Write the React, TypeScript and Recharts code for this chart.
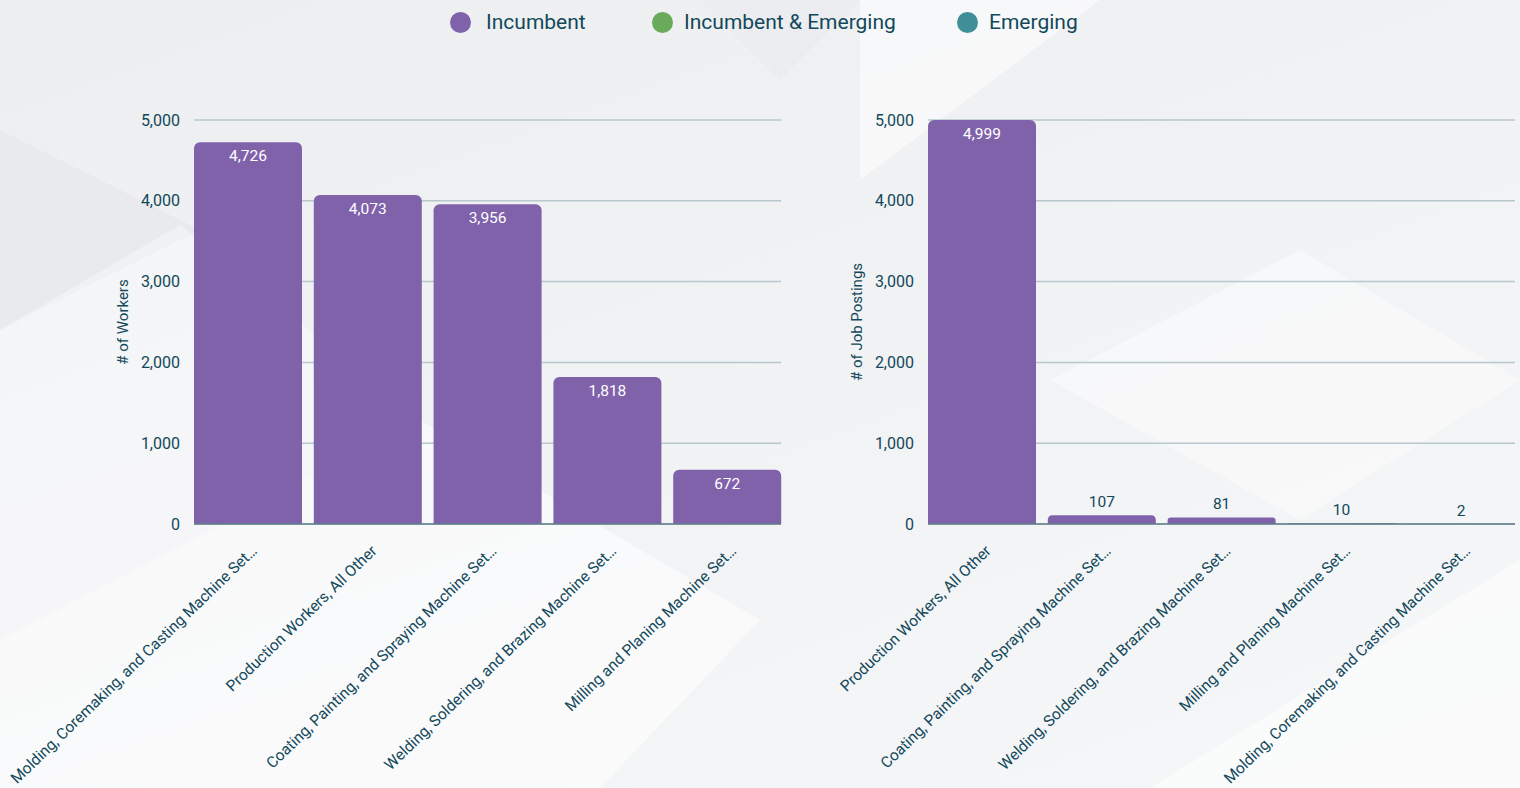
import React from 'react';
import { BarChart, Bar, XAxis, YAxis, CartesianGrid, LabelList, Label } from 'recharts';

const workerCategories = [
  'Molding, Coremaking, and Casting Machine Set…',
  'Production Workers, All Other',
  'Coating, Painting, and Spraying Machine Set…',
  'Welding, Soldering, and Brazing Machine Set…',
  'Milling and Planing Machine Set…',
];
const workerValues = [4726, 4073, 3956, 1818, 672];

const postingCategories = [
  'Production Workers, All Other',
  'Coating, Painting, and Spraying Machine Set…',
  'Welding, Soldering, and Brazing Machine Set…',
  'Milling and Planing Machine Set…',
  'Molding, Coremaking, and Casting Machine Set…',
];
const postingValues = [4999, 107, 81, 10, 2];

const yTicks = [0, 1000, 2000, 3000, 4000, 5000];

const legendNames = ['Incumbent', 'Incumbent & Emerging', 'Emerging'];
const legendColors = ['#8062ab', '#6aaa5b', '#3f8f99'];

const PURPLE = '#8062ab';
const DARK = '#12485a';
const FONT = 'Roboto, "Noto Sans", sans-serif';

const fmt = (v: number) => v.toLocaleString('en-US');

const renderBarLabel = (props: any) => {
  const { x, y, width, height, value } = props;
  const inside = height > 30;
  const cx = Number(x) + Number(width) / 2;
  return (
    <text
      x={cx}
      y={inside ? Number(y) + 14 : Number(y) - 13}
      fill={inside ? '#ffffff' : DARK}
      textAnchor="middle"
      dominantBaseline="central"
      fontSize={15.5}
      fontFamily={FONT}
    >
      {fmt(Number(value))}
    </text>
  );
};

const XTick = (props: any) => {
  const { x, y, payload } = props;
  return (
    <text
      transform={`translate(${x + 10},${y + 20}) rotate(-44)`}
      textAnchor="end"
      fill={DARK}
      fontSize={15.5}
      fontFamily={FONT}
    >
      {payload.value}
    </text>
  );
};

function Chart({ left, categories, values, yLabel }: { left: number; categories: string[]; values: number[]; yLabel: string }) {
  const data = categories.map((c, i) => ({ name: c, value: values[i] }));
  return (
    <div style={{ position: 'absolute', left, top: 0 }}>
      <BarChart
        width={800}
        height={788}
        data={data}
        margin={{ top: 120, right: 19, bottom: 64, left: 114 }}
        barCategoryGap={6}
      >
        <CartesianGrid vertical={false} stroke="#b7c8cd" strokeWidth={1.5} />
        <XAxis
          dataKey="name"
          interval={0}
          height={200}
          tickLine={false}
          axisLine={{ stroke: '#5f7f88', strokeWidth: 1.5 }}
          padding={{ left: -6, right: -6 }}
          tick={<XTick />}
        />
        <YAxis
          width={80}
          domain={[0, 5000]}
          ticks={yTicks}
          tickLine={false}
          axisLine={false}
          tickMargin={8}
          tick={{ fill: DARK, fontSize: 16, fontFamily: FONT }}
          tickFormatter={(v: number) => fmt(v)}
        >
          <Label
            content={(p: any) => {
              const vb = p.viewBox || {};
              const cx = vb.x + 9;
              const cy = vb.y + vb.height / 2;
              return (
                <text
                  transform={`translate(${cx},${cy}) rotate(-90)`}
                  textAnchor="middle"
                  dominantBaseline="central"
                  fill={DARK}
                  fontSize={15}
                  fontFamily={FONT}
                >
                  {yLabel}
                </text>
              );
            }}
          />
        </YAxis>
        <Bar dataKey="value" fill={PURPLE} radius={[6, 6, 0, 0]} isAnimationActive={false}>
          <LabelList dataKey="value" content={renderBarLabel} />
        </Bar>
      </BarChart>
    </div>
  );
}

const legendLefts = [450, 652, 957];

export default function App() {
  return (
    <div
      style={{
        position: 'fixed',
        left: 0,
        top: 0,
        width: 1520,
        height: 788,
        overflow: 'hidden',
        background: 'linear-gradient(160deg, #eceef0 0%, #f1f2f4 45%, #f6f7f8 100%)',
        fontFamily: FONT,
      }}
    >
      <svg width={1520} height={788} style={{ position: 'absolute', left: 0, top: 0 }}>
        <polygon points="0,130 200,230 0,330" fill="#e6e8eb" opacity={0.8} />
        <polygon points="0,330 180,225 420,420 0,640" fill="#ffffff" opacity={0.35} />
        <polygon points="0,640 420,420 760,620 600,788 0,788" fill="#ffffff" opacity={0.55} />
        <polygon points="860,0 1100,0 860,180" fill="#ffffff" opacity={0.5} />
        <polygon points="1050,380 1300,250 1520,380 1300,520" fill="#ffffff" opacity={0.4} />
        <polygon points="1150,788 1520,560 1520,788" fill="#ffffff" opacity={0.5} />
        <polygon points="700,0 860,0 780,80" fill="#e9ebee" opacity={0.6} />
      </svg>
      {legendNames.map((n, i) => (
        <div
          key={n}
          style={{
            position: 'absolute',
            left: legendLefts[i],
            top: 9,
            display: 'flex',
            alignItems: 'center',
            fontSize: 21,
            color: DARK,
            lineHeight: '26px',
            whiteSpace: 'nowrap',
          }}
        >
          <span
            style={{
              display: 'inline-block',
              width: 21,
              height: 21,
              borderRadius: 11,
              background: legendColors[i],
              marginRight: i === 0 ? 15 : 11,
            }}
          />
          <span>{n}</span>
        </div>
      ))}
      <Chart left={0} categories={workerCategories} values={workerValues} yLabel="# of Workers" />
      <Chart left={734} categories={postingCategories} values={postingValues} yLabel="# of Job Postings" />
    </div>
  );
}
